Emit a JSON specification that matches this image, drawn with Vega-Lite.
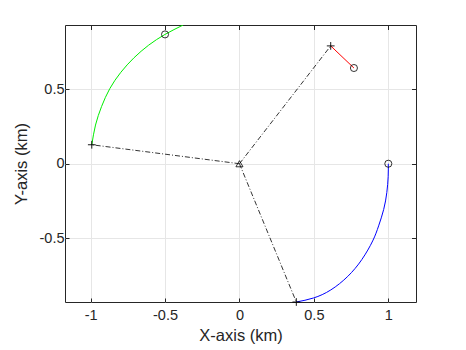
{
  "$schema": "https://vega.github.io/schema/vega-lite/v6.json",
  "width": 351,
  "height": 277,
  "autosize": {"type": "none"},
  "padding": {"left": 65, "top": 25, "right": 50, "bottom": 48},
  "background": "white",
  "config": {
    "view": {"stroke": "#262626", "strokeWidth": 1},
    "font": "Liberation Sans",
    "axis": {"labelFont": "Liberation Sans", "titleFont": "Liberation Sans", "labelColor": "#262626", "titleColor": "#262626", "titleFontWeight": "normal", "labelFontSize": 14.5, "titleFontSize": 16.5, "domain": false, "tickColor": "#262626", "tickSize": -4, "tickWidth": 1, "gridColor": "#e6e6e6", "gridWidth": 1, "labelExpr": "'' + datum.value"}
  },
  "datasets": {
    "green": [
      {"o": 0, "x": -0.992, "y": 0.127},
      {"o": 1, "x": -0.967, "y": 0.259},
      {"o": 2, "x": -0.926, "y": 0.384},
      {"o": 3, "x": -0.871, "y": 0.503},
      {"o": 4, "x": -0.797, "y": 0.612},
      {"o": 5, "x": -0.709, "y": 0.709},
      {"o": 6, "x": -0.61, "y": 0.794},
      {"o": 7, "x": -0.5, "y": 0.866},
      {"o": 8, "x": -0.378, "y": 0.929}
    ],
    "blue": [
      {"o": 0, "x": 1.0, "y": 0.0},
      {"o": 1, "x": 0.999, "y": -0.087},
      {"o": 2, "x": 0.99, "y": -0.193},
      {"o": 3, "x": 0.969, "y": -0.306},
      {"o": 4, "x": 0.935, "y": -0.416},
      {"o": 5, "x": 0.895, "y": -0.517},
      {"o": 6, "x": 0.822, "y": -0.642},
      {"o": 7, "x": 0.728, "y": -0.754},
      {"o": 8, "x": 0.614, "y": -0.845},
      {"o": 9, "x": 0.498, "y": -0.899},
      {"o": 10, "x": 0.382, "y": -0.926}
    ],
    "red": [
      {"x": 0.613, "y": 0.789},
      {"x": 0.769, "y": 0.641}
    ],
    "spokes": [
      {"g": "a", "o": 0, "x": 0, "y": 0},
      {"g": "a", "o": 1, "x": -0.992, "y": 0.127},
      {"g": "b", "o": 0, "x": 0, "y": 0},
      {"g": "b", "o": 1, "x": 0.613, "y": 0.789},
      {"g": "c", "o": 0, "x": 0, "y": 0},
      {"g": "c", "o": 1, "x": 0.382, "y": -0.926}
    ],
    "circles": [
      {"x": -0.5, "y": 0.866},
      {"x": 1.0, "y": 0.0},
      {"x": 0.769, "y": 0.641}
    ],
    "pluses": [
      {"x": -0.992, "y": 0.127},
      {"x": 0.613, "y": 0.789},
      {"x": 0.382, "y": -0.926}
    ],
    "origin": [
      {"x": 0, "y": 0}
    ]
  },
  "layer": [
    {
      "data": {"name": "spokes"},
      "mark": {"type": "line", "color": "black", "strokeWidth": 0.8, "strokeDash": [5, 2, 1, 2], "clip": true},
      "encoding": {
        "x": {"field": "x", "type": "quantitative", "scale": {"domain": [-1.172, 1.186], "nice": false, "zero": false},
          "axis": {"orient": "bottom", "values": [-1, -0.5, 0, 0.5, 1], "grid": true, "title": "X-axis (km)", "labelPadding": 10, "titlePadding": 6}},
        "y": {"field": "y", "type": "quantitative", "scale": {"domain": [-0.926, 0.929], "nice": false, "zero": false},
          "axis": {"orient": "left", "values": [-0.5, 0, 0.5], "grid": true, "title": "Y-axis (km)", "labelPadding": 5, "titlePadding": 10}},
        "detail": {"field": "g"},
        "order": {"field": "o"}
      }
    },
    {
      "data": {"name": "green"},
      "mark": {"type": "line", "color": "#00ee00", "strokeWidth": 1, "interpolate": "natural", "clip": true},
      "encoding": {
        "x": {"field": "x", "type": "quantitative", "axis": {"orient": "top", "values": [-1, -0.5, 0, 0.5, 1], "labels": false, "grid": false, "title": null}},
        "y": {"field": "y", "type": "quantitative", "axis": {"orient": "right", "values": [-0.5, 0, 0.5], "labels": false, "grid": false, "title": null}},
        "order": {"field": "o"}
      }
    },
    {
      "data": {"name": "blue"},
      "mark": {"type": "line", "color": "#0000ff", "strokeWidth": 1, "interpolate": "natural", "clip": true},
      "encoding": {
        "x": {"field": "x", "type": "quantitative", "axis": {"orient": "top", "values": [-1, -0.5, 0, 0.5, 1], "labels": false, "grid": false, "title": null}},
        "y": {"field": "y", "type": "quantitative", "axis": {"orient": "right", "values": [-0.5, 0, 0.5], "labels": false, "grid": false, "title": null}},
        "order": {"field": "o"}
      }
    },
    {
      "data": {"name": "red"},
      "mark": {"type": "line", "color": "#ff0000", "strokeWidth": 1, "clip": true},
      "encoding": {
        "x": {"field": "x", "type": "quantitative", "axis": {"orient": "top", "values": [-1, -0.5, 0, 0.5, 1], "labels": false, "grid": false, "title": null}},
        "y": {"field": "y", "type": "quantitative", "axis": {"orient": "right", "values": [-0.5, 0, 0.5], "labels": false, "grid": false, "title": null}}
      }
    },
    {
      "data": {"name": "circles"},
      "mark": {"type": "point", "shape": "circle", "filled": false, "stroke": "#000000", "strokeWidth": 0.8, "size": 50, "opacity": 1},
      "encoding": {
        "x": {"field": "x", "type": "quantitative", "axis": {"orient": "top", "values": [-1, -0.5, 0, 0.5, 1], "labels": false, "grid": false, "title": null}},
        "y": {"field": "y", "type": "quantitative", "axis": {"orient": "right", "values": [-0.5, 0, 0.5], "labels": false, "grid": false, "title": null}}
      }
    },
    {
      "data": {"name": "pluses"},
      "mark": {"type": "point", "shape": "M-1,0L1,0M0,-1L0,1", "filled": false, "stroke": "#000000", "strokeWidth": 0.9, "size": 60, "opacity": 1},
      "encoding": {
        "x": {"field": "x", "type": "quantitative", "axis": {"orient": "top", "values": [-1, -0.5, 0, 0.5, 1], "labels": false, "grid": false, "title": null}},
        "y": {"field": "y", "type": "quantitative", "axis": {"orient": "right", "values": [-0.5, 0, 0.5], "labels": false, "grid": false, "title": null}}
      }
    },
    {
      "data": {"name": "origin"},
      "mark": {"type": "point", "shape": "triangle-up", "filled": false, "stroke": "#000000", "strokeWidth": 0.8, "size": 50, "opacity": 1},
      "encoding": {
        "x": {"field": "x", "type": "quantitative", "axis": {"orient": "top", "values": [-1, -0.5, 0, 0.5, 1], "labels": false, "grid": false, "title": null}},
        "y": {"field": "y", "type": "quantitative", "axis": {"orient": "right", "values": [-0.5, 0, 0.5], "labels": false, "grid": false, "title": null}}
      }
    }
  ]
}
